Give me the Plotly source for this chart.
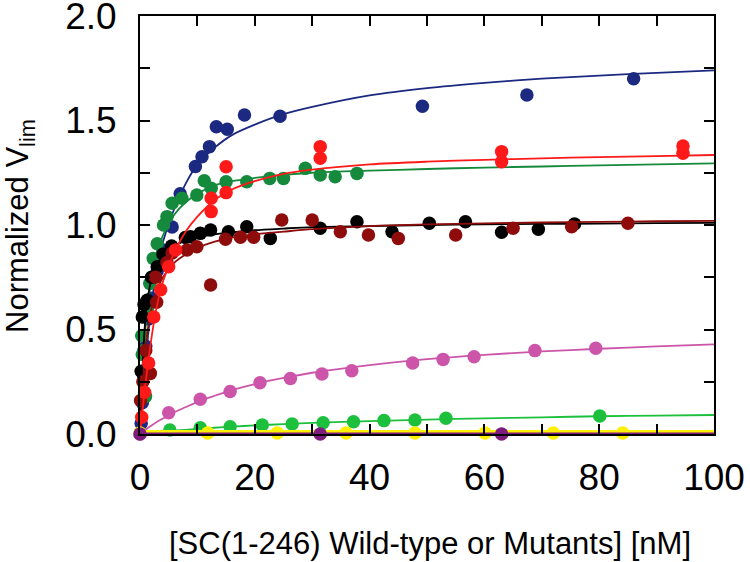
import plotly.graph_objects as go

# ---------------- data ----------------
blue_x = [0.2, 0.4, 0.6, 1.0, 1.5, 2.0, 3.0, 4.0, 5.6, 7.0, 9.65, 10.8, 12.1, 13.3, 15.2, 18.2, 24.4, 49.2, 67.4, 86.0]
blue_y = [0.05, 0.15, 0.28, 0.42, 0.55, 0.65, 0.78, 0.88, 0.99, 1.15, 1.28, 1.327, 1.375, 1.47, 1.458, 1.526, 1.52, 1.568, 1.622, 1.70]

red_x = [0.3, 0.8, 1.5, 2.4, 3.6, 5.0, 6.2, 12.4, 12.4, 15.0, 15.0, 31.4, 31.4, 63.0, 63.0, 94.6, 94.6]
red_y = [0.08, 0.2, 0.34, 0.56, 0.69, 0.80, 0.88, 1.064, 1.128, 1.155, 1.279, 1.319, 1.375, 1.303, 1.351, 1.343, 1.378]

dgreen_x = [0.3, 0.4, 0.66, 0.96, 1.3, 1.7, 2.3, 3.0, 4.1, 4.7, 5.6, 7.3, 9.9, 11.2, 12.4, 15.0, 18.6, 22.6, 25.0, 28.8, 31.4, 34.0, 37.8]
dgreen_y = [0.47, 0.38, 0.40, 0.18, 0.6, 0.72, 0.84, 0.91, 1.0, 1.04, 1.104, 1.128, 1.143, 1.212, 1.176, 1.207, 1.207, 1.223, 1.223, 1.271, 1.239, 1.231, 1.247]

black_x = [0.2, 0.4, 0.7, 1.25, 2.0, 3.0, 4.0, 5.5, 7.9, 8.8, 10.5, 12.3, 15.4, 18.6, 22.7, 31.4, 37.8, 43.9, 50.4, 56.7, 63.0, 69.4, 75.7]
black_y = [0.3, 0.56, 0.62, 0.64, 0.75, 0.8, 0.86, 0.9, 0.94, 0.944, 0.96, 0.976, 0.968, 0.992, 0.936, 0.984, 1.016, 0.968, 1.008, 1.016, 0.965, 0.98, 1.005]

maroon_x = [0.1, 0.5, 1.0, 1.8, 2.7, 2.9, 4.7, 5.6, 8.2, 9.9, 12.3, 14.9, 17.5, 19.8, 24.7, 30.0, 34.9, 39.8, 45.0, 55.0, 65.0, 75.2, 85.0]
maroon_y = [0.16, 0.25, 0.4, 0.29, 0.75, 0.63, 0.82, 0.866, 0.88, 0.896, 0.713, 0.932, 0.941, 0.941, 1.024, 1.024, 0.968, 0.952, 0.936, 0.952, 0.984, 0.992, 1.008]

pink_x = [0.0, 5.0, 10.5, 15.7, 20.9, 26.2, 31.7, 36.9, 47.5, 52.8, 58.2, 68.8, 79.4]
pink_y = [0.0, 0.102, 0.166, 0.203, 0.245, 0.266, 0.287, 0.303, 0.34, 0.357, 0.370, 0.399, 0.410]

lgreen_x = [5.2, 10.5, 15.7, 21.3, 26.5, 31.9, 37.2, 42.5, 47.9, 53.3, 80.1]
lgreen_y = [0.019, 0.030, 0.035, 0.043, 0.048, 0.054, 0.059, 0.064, 0.067, 0.075, 0.086]

yellow_x = [0.0, 11.8, 23.9, 35.9, 47.9, 60.1, 72.0, 84.1]
yellow_y = [0.005, 0.005, 0.005, 0.005, 0.005, 0.005, 0.005, 0.005]

cyan_x = [0.0, 25.3, 49.9, 75.6]
cyan_y = [-0.005, -0.005, -0.005, -0.005]

purple_x = [0.0, 31.4, 63.0]
purple_y = [0.0, 0.0, 0.0]

# fitted curves
fit_x = [0, 1, 2, 3, 4, 6, 8, 10, 13, 16, 20, 25, 30, 40, 50, 60, 70, 80, 90, 100]
blue_fit = [0, 0.35, 0.62, 0.80, 0.92, 1.08, 1.20, 1.29, 1.37, 1.43, 1.48, 1.53, 1.565, 1.62, 1.655, 1.68, 1.70, 1.715, 1.728, 1.74]
red_fit = [0, 0.25, 0.46, 0.62, 0.73, 0.87, 0.97, 1.04, 1.12, 1.17, 1.21, 1.245, 1.265, 1.29, 1.303, 1.312, 1.319, 1.325, 1.330, 1.335]
dgreen_fit = [0, 0.52, 0.74, 0.87, 0.95, 1.05, 1.11, 1.15, 1.19, 1.21, 1.225, 1.24, 1.25, 1.26, 1.268, 1.275, 1.28, 1.285, 1.29, 1.295]
black_fit = [0, 0.57, 0.74, 0.81, 0.85, 0.90, 0.925, 0.94, 0.955, 0.965, 0.975, 0.983, 0.99, 0.995, 1.0, 1.003, 1.005, 1.007, 1.009, 1.01]
maroon_fit = [0, 0.42, 0.60, 0.69, 0.75, 0.82, 0.86, 0.89, 0.92, 0.94, 0.955, 0.968, 0.98, 0.995, 1.003, 1.008, 1.012, 1.015, 1.018, 1.02]
pink_fit = [0, 0.021, 0.041, 0.059, 0.074, 0.104, 0.129, 0.154, 0.183, 0.21, 0.239, 0.268, 0.293, 0.33, 0.358, 0.379, 0.395, 0.408, 0.419, 0.429]
lgreen_fit = [0, 0.003, 0.006, 0.009, 0.011, 0.016, 0.020, 0.025, 0.030, 0.035, 0.041, 0.047, 0.053, 0.062, 0.069, 0.075, 0.080, 0.085, 0.088, 0.091]
yellow_fit = [0.012] * len(fit_x)
purple_fit = [0.0] * len(fit_x)

C_BLUE = "#1b2a80"
C_RED = "#ff1a1a"
C_DGREEN = "#168a3c"
C_BLACK = "#000000"
C_MAROON = "#8e0c0c"
C_PINK = "#cc55aa"
C_LGREEN = "#1cc03c"
C_YELLOW = "#fff000"
C_CYAN = "#26c0e0"
C_PURPLE = "#7d1c7d"

fig = go.Figure()

def add_fit(y, color, width=1.8):
    fig.add_trace(go.Scatter(x=fit_x, y=y, mode="lines", line=dict(color=color, width=width, shape="spline", smoothing=0.8),
                             cliponaxis=False, showlegend=False, hoverinfo="skip"))

def add_pts(x, y, color):
    fig.add_trace(go.Scatter(x=x, y=y, mode="markers", marker=dict(color=color, size=13.5, line=dict(width=0)),
                             cliponaxis=False, showlegend=False))

add_fit(blue_fit, C_BLUE)
add_pts(blue_x, blue_y, C_BLUE)
add_fit(dgreen_fit, C_DGREEN)
add_pts(dgreen_x, dgreen_y, C_DGREEN)
add_fit(black_fit, C_BLACK)
add_pts(black_x, black_y, C_BLACK)
add_fit(maroon_fit, C_MAROON)
add_pts(maroon_x, maroon_y, C_MAROON)
add_fit(red_fit, C_RED)
add_pts(red_x, red_y, C_RED)
add_fit(pink_fit, C_PINK)
add_pts(pink_x, pink_y, C_PINK)
add_fit(lgreen_fit, C_LGREEN)
add_pts(lgreen_x, lgreen_y, C_LGREEN)
add_pts(cyan_x, cyan_y, C_CYAN)
add_fit(yellow_fit, C_YELLOW, 3)
add_pts(yellow_x, yellow_y, C_YELLOW)
add_fit(purple_fit, C_PURPLE, 3)
add_pts(purple_x, purple_y, C_PURPLE)

axis_common = dict(showgrid=False, zeroline=False, showline=True, linecolor="black", linewidth=2,
                   mirror="ticks", ticks="inside", ticklen=10, tickwidth=2, tickcolor="black",
                   automargin=False, ticklabeloverflow="allow",
                   tickfont=dict(family="Liberation Sans, Arial", size=37, color="black"))

fig.update_layout(
    width=750, height=562,
    margin=dict(l=139.5, r=35.5, t=16, b=128, autoexpand=False),
    plot_bgcolor="white", paper_bgcolor="white",
    xaxis=dict(range=[0, 100], tickvals=[0, 20, 40, 60, 80, 100], ticktext=["0", "20", "40", "60", "80", "100"],
               ticklabelstandoff=10,
               minor=dict(dtick=10, ticks="inside", ticklen=10, tickwidth=2, tickcolor="black", showgrid=False),
               **axis_common),
    yaxis=dict(range=[0, 2], tickvals=[0, 0.5, 1.0, 1.5, 2.0], ticktext=["0.0", "0.5", "1.0", "1.5", "2.0"],
               ticklabelstandoff=14,
               minor=dict(dtick=0.25, ticks="inside", ticklen=10, tickwidth=2, tickcolor="black", showgrid=False),
               **axis_common),
    annotations=[
        dict(text="[SC(1-246) Wild-type or Mutants] [nM]", xref="paper", yref="paper", x=0.5, y=0,
             xanchor="center", yanchor="middle", yshift=-109, xshift=3, showarrow=False,
             font=dict(family="Liberation Sans, Arial", size=31, color="black")),
        dict(text="Normalized V<sub>lim</sub>", xref="paper", yref="paper", x=0, y=0.5,
             xanchor="center", yanchor="middle", xshift=-120, yshift=-1, textangle=-90, showarrow=False,
             font=dict(family="Liberation Sans, Arial", size=31, color="black")),
    ],
)

fig.write_html("out.html", config={"displayModeBar": False},
               post_script="document.body.style.margin='0';document.body.style.overflow='hidden';")
